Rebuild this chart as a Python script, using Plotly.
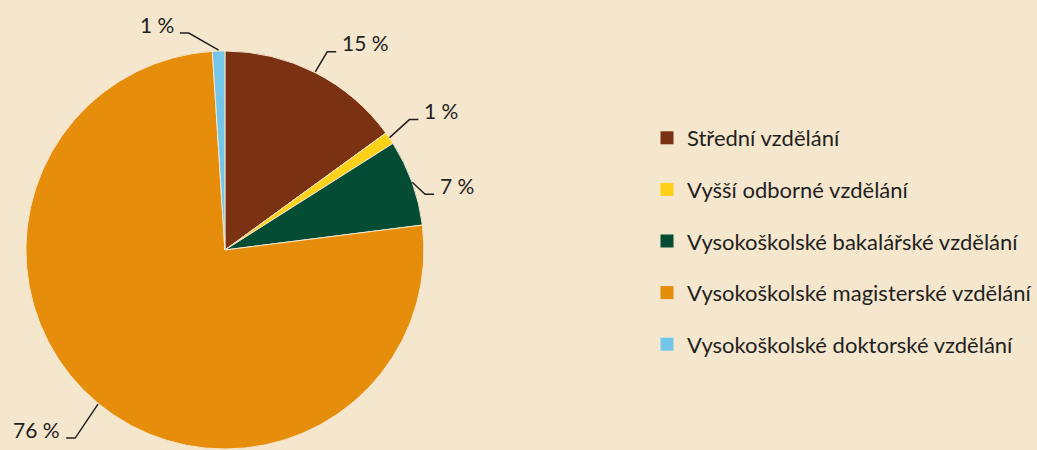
import math
import plotly.graph_objects as go

# ---- data ----
labels = [
    "Střední vzdělání",
    "Vyšší odborné vzdělání",
    "Vysokoškolské bakalářské vzdělání",
    "Vysokoškolské magisterské vzdělání",
    "Vysokoškolské doktorské vzdělání",
]
values = [15, 1, 7, 76, 1]

# ---- style ----
colors = ["#7A3213", "#FDD117", "#044D34", "#E68E0B", "#73C6EA"]
BG = "#F5E6CE"
TXT = "#231F20"
FONT = "Lato"
W, H = 1037, 450
CX, CY, R = 226, 250, 200  # pie centre / radius in px
# leader-line elbow offsets from slice edge (px) and direction of horizontal tail
elbow = [(12, -20), (20, -18), (13, 12), (-23, 34), (-30, -17)]
tail_dir = [1, 1, 1, -1, -1]
TAIL = 9
GAP = 4

fig = go.Figure()
fig.add_trace(go.Pie(
    labels=labels, values=values, sort=False, direction="clockwise", rotation=0,
    marker=dict(colors=colors, line=dict(color=BG, width=1)),
    textinfo="none", hoverinfo="label+percent", showlegend=False,
    domain=dict(x=[(CX - R) / W, (CX + R) / W], y=[0, 2 * R / H]),
))

# legend entries
for lab, col in zip(labels, colors):
    fig.add_trace(go.Scatter(
        x=[None], y=[None], mode="markers", name=lab, legendgroup=lab,
        marker=dict(symbol="square", size=13, color=col, line=dict(width=0)),
        showlegend=True, hoverinfo="skip",
    ))

def px2paper(x, y):
    return x / W, 1 - y / H

total = sum(values)
cum = 0
shapes, annots = [], []
for i, v in enumerate(values):
    mid = 2 * math.pi * (cum + v / 2) / total
    cum += v
    ex, ey = CX + R * math.sin(mid), CY - R * math.cos(mid)
    bx, by = ex + elbow[i][0], ey + elbow[i][1]
    tx = bx + tail_dir[i] * TAIL
    p = [px2paper(ex, ey), px2paper(bx, by), px2paper(tx, by)]
    shapes.append(dict(
        type="path", xref="paper", yref="paper",
        path=f"M {p[0][0]},{p[0][1]} L {p[1][0]},{p[1][1]} L {p[2][0]},{p[2][1]}",
        line=dict(color=TXT, width=1.5),
    ))
    ax, ay = px2paper(tx + tail_dir[i] * GAP, by - 9)
    annots.append(dict(
        x=ax, y=ay, xref="paper", yref="paper", showarrow=False,
        text=f"{round(v / total * 100)} %",
        xanchor="left" if tail_dir[i] > 0 else "right", yanchor="middle",
        font=dict(family=FONT, size=21, color=TXT),
    ))

fig.update_layout(
    width=W, height=H,
    margin=dict(l=0, r=0, t=0, b=0),
    paper_bgcolor=BG, plot_bgcolor=BG,
    xaxis=dict(visible=False), yaxis=dict(visible=False),
    shapes=shapes, annotations=annots,
    legend=dict(
        x=0.627, y=1 - 117 / H, xanchor="left", yanchor="top",
        font=dict(family=FONT, size=22, color=TXT),
        tracegroupgap=20, bgcolor="rgba(0,0,0,0)", itemsizing="trace",
    ),
    font=dict(family=FONT, color=TXT),
)

fig.write_html(
    "out.html",
    config={"displayModeBar": False},
    post_script="document.body.style.margin='0';document.body.style.overflow='hidden';",
)
